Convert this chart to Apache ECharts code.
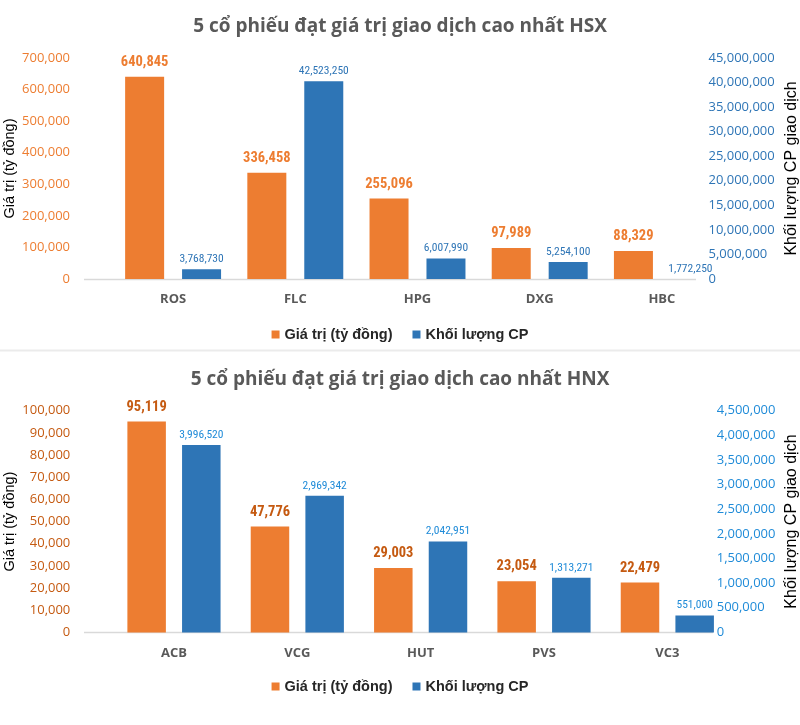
<!DOCTYPE html>
<html><head><meta charset="utf-8">
<script src="https://cdn.jsdelivr.net/npm/echarts@6/dist/echarts.min.js"></script>
<style>html,body{margin:0;padding:0;background:#fff}#c{width:800px;height:725px}</style>
</head><body><div id="c"></div>
<script>
// ---- data ----
const titleHSX = '5 cổ phiếu đạt giá trị giao dịch cao nhất HSX';
const titleHNX = '5 cổ phiếu đạt giá trị giao dịch cao nhất HNX';
const seriesValueName = 'Giá trị (tỷ đồng)';
const seriesVolumeName = 'Khối lượng CP';
const leftAxisName = 'Giá trị (tỷ đồng)';
const rightAxisName = 'Khối lượng CP giao dịch';

const hsxCategories = ['ROS', 'FLC', 'HPG', 'DXG', 'HBC'];
const hsxValue = [640845, 336458, 255096, 97989, 88329];
const hsxVolume = [3768730, 42523250, 6007990, 5254100, 1772250];

const hnxCategories = ['ACB', 'VCG', 'HUT', 'PVS', 'VC3'];
const hnxValue = [95119, 47776, 29003, 23054, 22479];
const hnxVolume = [3996520, 2969342, 2042951, 1313271, 551000];

// ---- styling ----
const ORANGE = '#ED7D31', BLUE = '#2E75B6';
const fmt = v => Math.round(v).toLocaleString('en-US');
const tickFont = 'Open Sans';

function panel(i, cfg) {
  const g0 = i * 3;
  const grid = {left: cfg.left, right: cfg.right, top: cfg.top, height: cfg.height,
    containLabel: false, outerBoundsMode: 'none'};
  const xAxis = {
    type: 'category', gridIndex: i, data: cfg.cats,
    axisLine: {show: false}, axisTick: {show: false},
    axisLabel: {color: '#595959', fontFamily: tickFont, fontWeight: 'bold', fontSize: 13, margin: 14}
  };
  const yLeft = {
    type: 'value', gridIndex: i, min: 0, max: cfg.lMax, interval: cfg.lInt,
    splitLine: {show: false}, axisLine: {show: false}, axisTick: {show: false},
    axisLabel: {color: cfg.lColor, fontFamily: tickFont, fontSize: 13, margin: 42, formatter: fmt},
    name: leftAxisName, nameLocation: 'middle', nameGap: 95, nameMoveOverlap: false,
    nameTextStyle: {color: '#000', fontFamily: 'Liberation Sans', fontSize: 14.5}
  };
  const yRight = {
    type: 'value', gridIndex: i, position: 'right', min: 0, max: cfg.rMax, interval: cfg.rInt,
    offset: cfg.rOffset,
    splitLine: {show: false}, axisLine: {show: false}, axisTick: {show: false},
    axisLabel: {color: cfg.rColor, fontFamily: tickFont, fontSize: 13, margin: 0, formatter: fmt},
    name: rightAxisName, nameLocation: 'middle', nameGap: cfg.rNameGap, nameMoveOverlap: false,
    nameTextStyle: {color: '#000', fontFamily: 'Liberation Sans', fontSize: 16}
  };
  const yHidden = {
    type: 'value', gridIndex: i, position: 'right', show: false,
    min: cfg.hMin, max: cfg.hMax, splitLine: {show: false}
  };
  const series = [
    {
      name: seriesValueName, type: 'bar', xAxisIndex: i, yAxisIndex: g0, data: cfg.value,
      barWidth: cfg.barWidth, barGap: cfg.barGap,
      itemStyle: {color: ORANGE},
      label: {show: true, position: 'top', distance: 7, formatter: p => fmt(p.value),
        color: cfg.oLabel, fontFamily: 'Roboto', fontStyle: 'condensed', fontWeight: 'bold', fontSize: 14.5}
    },
    {
      name: seriesVolumeName, type: 'bar', xAxisIndex: i, yAxisIndex: g0 + 2, data: cfg.volume,
      barWidth: cfg.barWidth, barGap: cfg.barGap,
      itemStyle: {color: BLUE},
      label: {show: true, position: 'top', distance: 4, formatter: p => fmt(p.value),
        color: cfg.bLabel, fontFamily: 'Roboto', fontStyle: 'condensed', fontSize: 11.5}
    }
  ];
  return {grid, xAxis, yAxes: [yLeft, yRight, yHidden], series};
}

const p1 = panel(0, {
  cats: hsxCategories, value: hsxValue, volume: hsxVolume,
  left: 112, right: 77, top: 58, height: 221,
  lMax: 700000, lInt: 100000, rMax: 45000000, rInt: 5000000,
  hMin: 1772250, hMax: 47300000, rOffset: -14.5, rNameGap: 75,
  lColor: ORANGE, rColor: '#2E75B6', oLabel: ORANGE, bLabel: '#2E75B6',
  barWidth: 39, barGap: '46%'
});
const p2 = panel(1, {
  cats: hnxCategories, value: hnxValue, volume: hnxVolume,
  left: 112.3, right: 71, top: 410.7, height: 221.7,
  lMax: 100000, lInt: 10000, rMax: 4500000, rInt: 500000,
  hMin: 207000, hMax: 4690000, rOffset: -12.3, rNameGap: 67,
  lColor: '#C55A11', rColor: '#1F8BD8', oLabel: '#C55A11', bLabel: '#1F8BD8',
  barWidth: 38.5, barGap: '42%'
});

const legendCommon = {
  data: [seriesValueName, seriesVolumeName], left: 'center', icon: 'rect',
  itemWidth: 8, itemHeight: 8, itemGap: 20,
  textStyle: {fontFamily: 'Liberation Sans', fontWeight: 'bold', fontSize: 14.5, color: '#262626'}
};

const option = {
  animation: false,
  backgroundColor: '#fff',
  title: [
    {text: titleHSX, left: 'center', top: 12, textStyle: {fontFamily: tickFont, fontWeight: 'bold', fontSize: 19, color: '#595959'}},
    {text: titleHNX, left: 'center', top: 365, textStyle: {fontFamily: tickFont, fontWeight: 'bold', fontSize: 19, color: '#595959'}}
  ],
  legend: [
    Object.assign({}, legendCommon, {top: 322}),
    Object.assign({}, legendCommon, {top: 674})
  ],
  grid: [p1.grid, p2.grid],
  xAxis: [p1.xAxis, p2.xAxis],
  yAxis: [...p1.yAxes, ...p2.yAxes],
  series: [...p1.series, ...p2.series],
  graphic: [
    {type: 'rect', shape: {x: 0, y: 349.5, width: 800, height: 2}, style: {fill: '#ebebeb'}, silent: true},
    {type: 'line', shape: {x1: 84, y1: 279.5, x2: 696, y2: 279.5}, style: {stroke: '#d9d9d9', lineWidth: 1.5}, silent: true},
    {type: 'line', shape: {x1: 84, y1: 632.5, x2: 713, y2: 632.5}, style: {stroke: '#d9d9d9', lineWidth: 1.5}, silent: true}
  ]
};
const chart = echarts.init(document.getElementById('c'), null, {renderer: 'canvas'});
chart.setOption(option);
</script>
</body></html>
